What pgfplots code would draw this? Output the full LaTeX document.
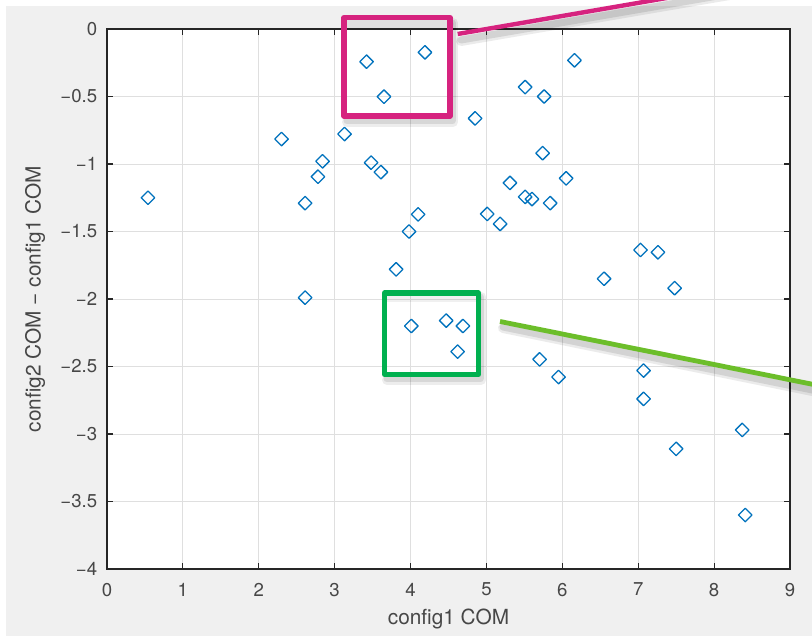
\documentclass[border=0pt]{standalone}
\usepackage{pgfplots}
\pgfplotsset{compat=1.18}
\usepackage{fontspec}
\setmainfont{TeX Gyre Heros}
\definecolor{mblue}{HTML}{0072BD}
\definecolor{axgray}{HTML}{262626}
\definecolor{gridgray}{HTML}{DFDFDF}
\definecolor{figgray}{HTML}{F0F0F0}
\definecolor{pinkbox}{HTML}{D6237F}
\definecolor{greenbox}{HTML}{00B04F}
\definecolor{greenline}{HTML}{6CBE2A}
\begin{document}
\begin{tikzpicture}
\useasboundingbox (-53.5pt,-33.5pt) rectangle (352.5pt,284.5pt);
\fill[figgray] (-50.5pt,-33.5pt) rectangle (352.5pt,281.5pt);
\begin{axis}[
  at={(0pt,0pt)}, anchor=south west,
  scale only axis, width=341.5pt, height=270pt,
  xmin=0, xmax=9, ymin=-4, ymax=0,
  xtick={0,1,2,3,4,5,6,7,8,9},
  xticklabels={0,1,2,3,4,5,6,7,8,9},
  ytick={-4,-3.5,-3,-2.5,-2,-1.5,-1,-0.5,0},
  yticklabels={−4,−3.5,−3,−2.5,−2,−1.5,−1,−0.5,0},
  tick align=inside, major tick length=3pt,
  tick style={axgray, line width=0.6pt},
  axis line style={axgray, line width=0.8pt},
  grid=major, grid style={gridgray, line width=0.5pt},
  axis background/.style={fill=white},
  ticklabel style={font=\fontsize{9.3}{11}\selectfont, text=axgray!85},
  xticklabel style={yshift=-3.5pt},
  yticklabel style={xshift=-1.4pt},
  every axis x label/.style={at={(axis description cs:0.5,0)}, anchor=center, yshift=-25pt, font=\fontsize{10.4}{12}\selectfont, text=axgray!85},
  every axis y label/.style={at={(axis description cs:-0.1054,0.5)}, rotate=90, anchor=center, font=\fontsize{10.4}{12}\selectfont, text=axgray!85},
  xlabel={config1 COM},
  ylabel={config2 COM − config1 COM},
  clip=false,
]
\addplot[only marks, mark=square, mark size=2.4pt, mark options={rotate=45, draw=mblue, fill=none, line width=0.65pt, line join=round}] coordinates {
(0.54,-1.25) (2.30,-0.815) (2.61,-1.29) (2.61,-1.99) (2.78,-1.094) (2.84,-0.98)
(3.13,-0.778) (3.42,-0.242) (3.48,-0.99) (3.65,-0.501) (3.61,-1.06) (3.81,-1.78)
(3.98,-1.50) (4.10,-1.373) (4.19,-0.173) (4.85,-0.662) (5.01,-1.37) (5.18,-1.444)
(5.31,-1.14) (5.51,-0.43) (5.51,-1.244) (5.60,-1.26) (5.76,-0.50) (5.74,-0.92)
(5.84,-1.29) (6.05,-1.106) (6.16,-0.232) (6.55,-1.85) (7.03,-1.637) (7.26,-1.654)
(7.48,-1.92) (4.01,-2.20) (4.47,-2.16) (4.69,-2.20) (4.62,-2.39) (5.70,-2.447)
(5.95,-2.578) (7.07,-2.53) (7.07,-2.74) (7.50,-3.11) (8.37,-2.97) (8.41,-3.60)
};
\end{axis}
\begin{scope}
\clip (-53.5pt,-33.5pt) rectangle (352.5pt,284.5pt);
% shadows
\begin{scope}[line join=round, line cap=round, black]
\draw[opacity=0.07, line width=5pt] (120pt,223.5pt) -- (173pt,223.5pt) -- (173pt,273pt);
\draw[opacity=0.09, line width=3.5pt] (120pt,224pt) -- (172.5pt,224pt) -- (172.5pt,273pt);
\draw[opacity=0.07, line width=5pt] (140pt,94.5pt) -- (187pt,94.5pt) -- (187pt,136pt);
\draw[opacity=0.09, line width=3.5pt] (140pt,95pt) -- (186.5pt,95pt) -- (186.5pt,136pt);
\draw[opacity=0.08, line width=5pt] (177pt,264pt) -- (355pt,294.5pt);
\draw[opacity=0.10, line width=3.5pt] (177pt,264.5pt) -- (355pt,295pt);
\draw[opacity=0.08, line width=5pt] (198pt,120.5pt) -- (360pt,87.5pt);
\draw[opacity=0.10, line width=3.5pt] (198pt,121pt) -- (360pt,88pt);
\draw[opacity=0.06, line width=4pt] (120pt,272.5pt) -- (171.5pt,272.5pt);
\draw[opacity=0.06, line width=4pt] (140pt,135.5pt) -- (185.5pt,135.5pt);
\end{scope}
\draw[pinkbox, line width=2.6pt, line join=round] (118.5pt,226.5pt) rectangle (171.5pt,275.75pt);
\draw[greenbox, line width=2.6pt, line join=round] (138.75pt,97.25pt) rectangle (185.75pt,138pt);
\draw[pinkbox, line width=2.2pt] (175.35pt,267.5pt) -- (360pt,299.3pt);
\draw[greenline, line width=2.4pt] (196.5pt,123.75pt) -- (360pt,90.9pt);
\end{scope}
\end{tikzpicture}
\end{document}
